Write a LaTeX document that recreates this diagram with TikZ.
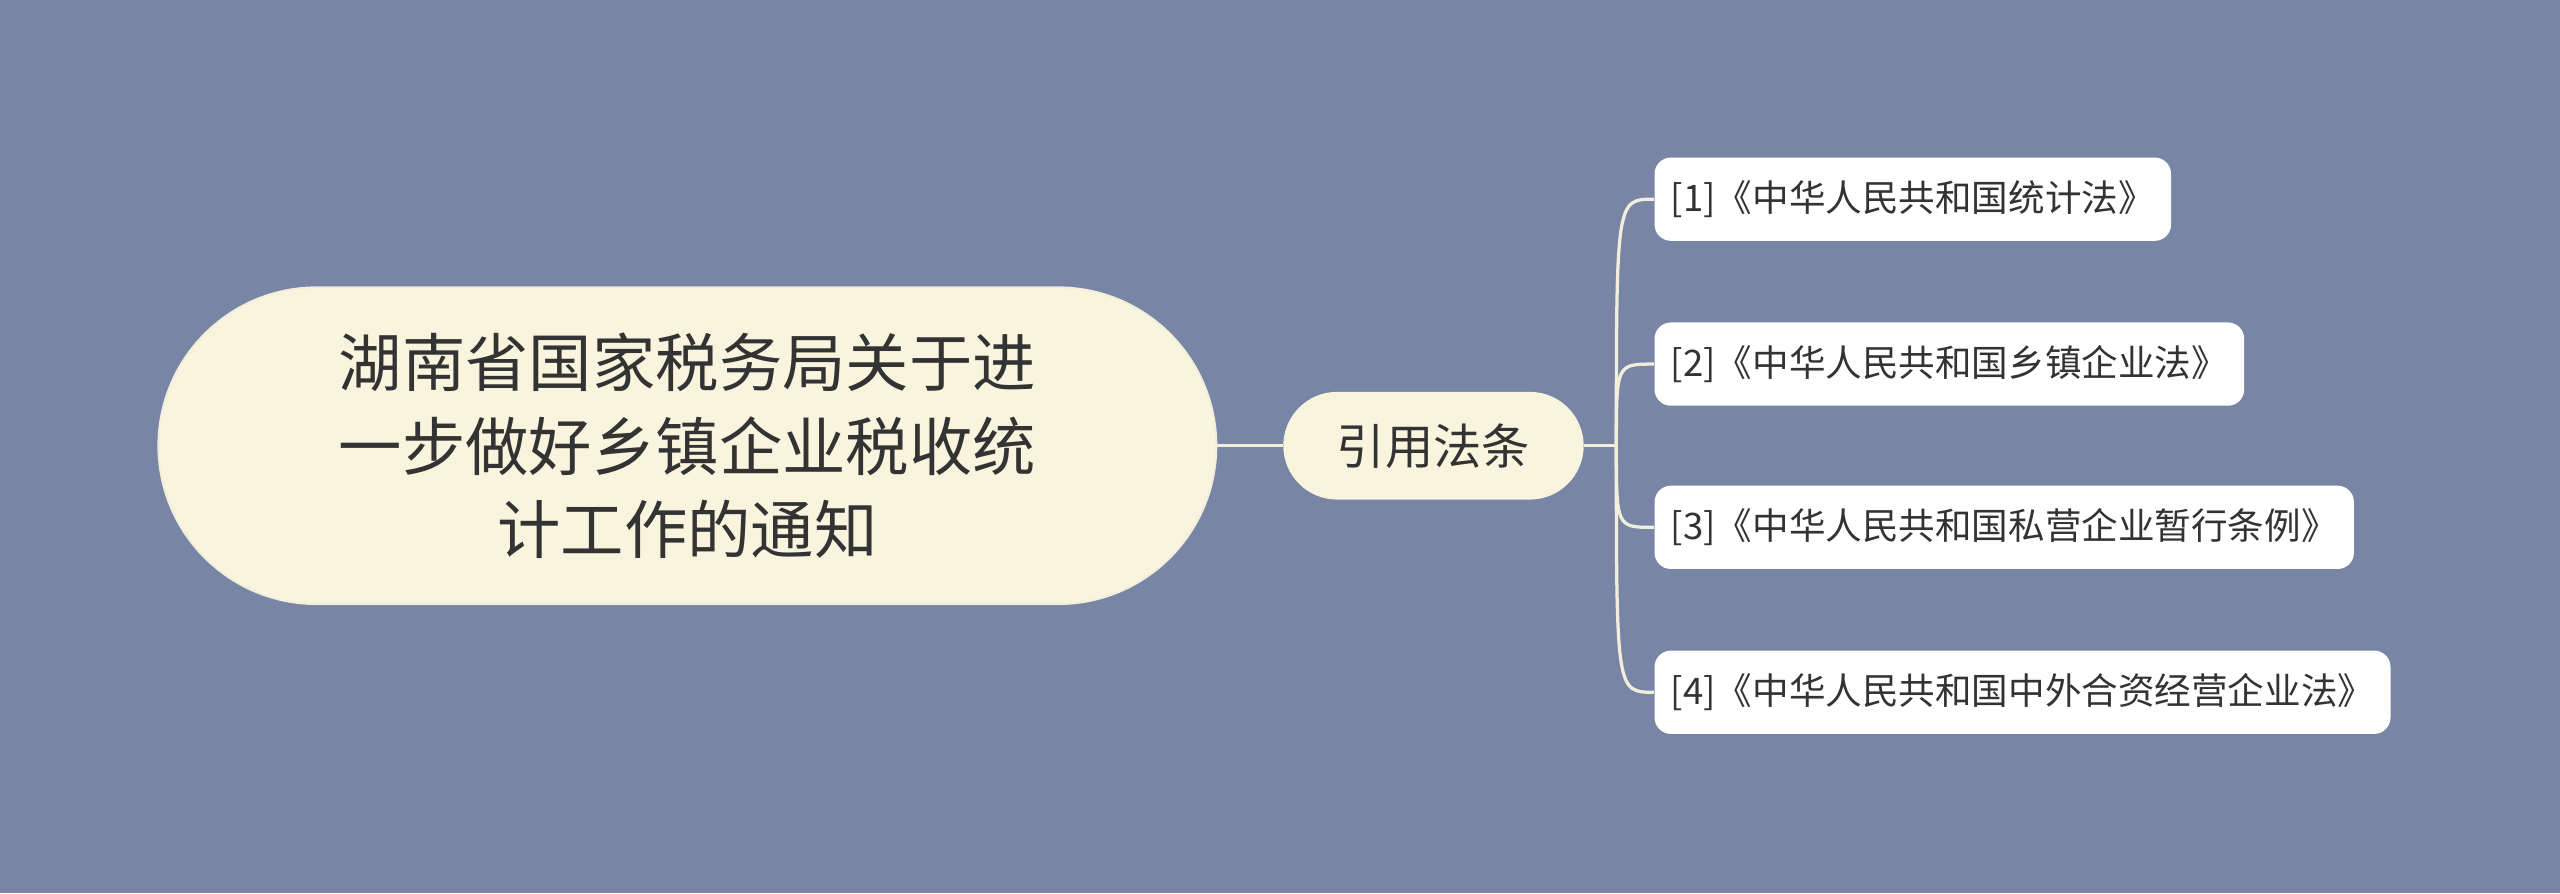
\documentclass[tikz,border=0pt]{standalone}
\usepackage{fontspec}
\setmainfont{Noto Sans CJK SC}
\definecolor{bg}{HTML}{7885A5}
\definecolor{cream}{HTML}{F8F4DE}
\definecolor{txt}{HTML}{333333}
\definecolor{ln}{HTML}{F2EEDC}
\begin{document}
\begin{tikzpicture}[x=0.5pt,y=-0.5pt,
  leaf/.style={draw=none,fill=white,rounded corners=5pt,minimum height=25.5pt,inner xsep=5pt,anchor=west,font=\fontsize{11.2}{13}\selectfont,text=txt},
  conn/.style={draw=ln,line width=1pt}]
\fill[bg] (0,0) rectangle (1568,547);
\node[draw=ln,line width=0.6pt,fill=cream,rounded corners=48.5pt,minimum width=324pt,minimum height=97pt,align=center,text=txt,font=\fontsize{19.4}{25.5}\selectfont] (main) at (421,273) {湖南省国家税务局关于进\\一步做好乡镇企业税收统\\计工作的通知};
\node[fill=cream,rounded corners=16.5pt,minimum width=92pt,minimum height=33pt,text=txt,font=\fontsize{14.8}{16}\selectfont] (sub) at (878,273) {引用法条};
\draw[conn] (main.east) -- (sub.west);
\node[leaf] (l1) at (1013,122) {[1]《中华人民共和国统计法》};
\node[leaf] (l2) at (1013,223) {[2]《中华人民共和国乡镇企业法》};
\node[leaf] (l3) at (1013,323) {[3]《中华人民共和国私营企业暂行条例》};
\node[leaf] (l4) at (1013,424) {[4]《中华人民共和国中外合资经营企业法》};
\coordinate (j) at (990,273);
\draw[conn] (sub.east) -- (j);
\foreach \n in {l1,l2,l3,l4}{
  \draw[conn] (j) .. controls (j |- \n.west) and (j |- \n.west) .. (\n.west);
}
\end{tikzpicture}
\end{document}
